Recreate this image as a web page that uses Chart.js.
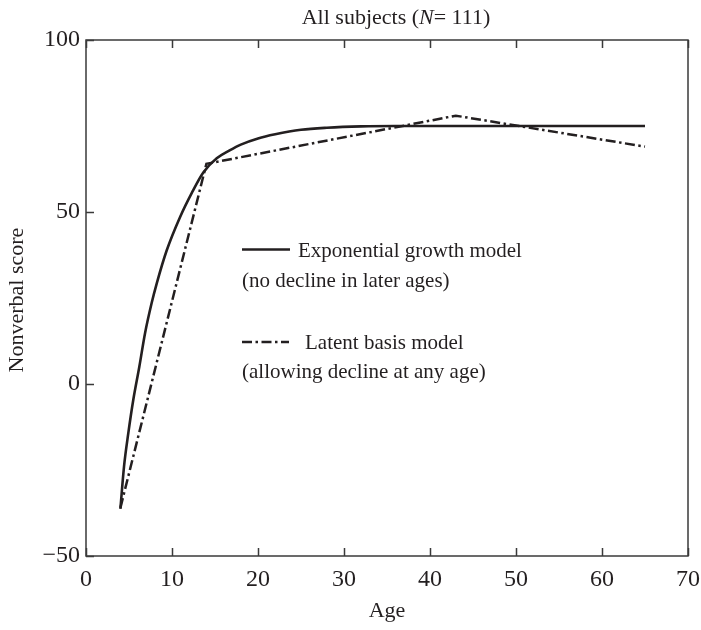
<!DOCTYPE html>
<html>
<head>
<meta charset="utf-8">
<script src="https://cdn.jsdelivr.net/npm/chart.js@4/dist/chart.umd.min.js"></script>
<style>
html,body{margin:0;padding:0;background:#fff;}
#wrap{width:701px;height:630px;position:relative;}
</style>
</head>
<body>
<div id="wrap"><canvas id="c" width="701" height="630"></canvas></div>
<script>
// ---- data ----
const expAges   = [4, 4.42, 4.92, 5.5, 6.2, 6.86, 7.64, 8.22, 9.38, 10.93, 12.29, 13.64, 15.2, 16.7, 18, 20, 22, 25, 28, 32, 36, 65];
const expScores = [-36.3, -24, -14.3, -4.6, 5, 14.7, 23.6, 29.2, 38.8, 48.5, 55.5, 61.5, 65.6, 67.9, 69.6, 71.4, 72.6, 73.9, 74.5, 74.9, 75, 75];
const lbAges    = [4, 14, 43, 65];
const lbScores  = [-36, 64, 78, 69];
const xTicks = [0, 10, 20, 30, 40, 50, 60, 70];
const yTicks = [-50, 0, 50, 100];
const titleText = ['All subjects (', 'N', '= 111)'];
const xLabel = 'Age';
const yLabel = 'Nonverbal score';
const legendLines = [
  ['Exponential growth model', '(no decline in later ages)'],
  ['Latent basis model', '(allowing decline at any age)']
];

const INK = '#231f20';
const SERIF = '"Liberation Serif", "DejaVu Serif", serif';
const DASHDOT = [10, 3.5, 2.5, 3.5];

const toPts = (xs, ys) => xs.map((x, i) => ({x: x, y: ys[i]}));

const decor = {
  id: 'decor',
  afterDraw(chart) {
    const ctx = chart.ctx, a = chart.chartArea;
    const xs = chart.scales.x, ys = chart.scales.y;
    ctx.save();
    // frame
    ctx.strokeStyle = '#3a3a3a';
    ctx.lineWidth = 1.5;
    ctx.strokeRect(a.left, a.top, a.right - a.left, a.bottom - a.top);
    // inward ticks
    ctx.beginPath();
    xTicks.forEach(v => {
      const px = Math.round(xs.getPixelForValue(v)) + 0.5;
      ctx.moveTo(px, a.bottom); ctx.lineTo(px, a.bottom - 8);
      ctx.moveTo(px, a.top); ctx.lineTo(px, a.top + 8);
    });
    yTicks.forEach(v => {
      const py = Math.round(ys.getPixelForValue(v)) + 0.5;
      ctx.moveTo(a.left, py); ctx.lineTo(a.left + 8, py);
    });
    ctx.stroke();

    ctx.fillStyle = INK;
    // title
    const f1 = '22px ' + SERIF, f2 = 'italic 22px ' + SERIF;
    ctx.font = f1; const w0 = ctx.measureText(titleText[0]).width;
    const w2 = ctx.measureText(titleText[2]).width;
    ctx.font = f2; const w1 = ctx.measureText(titleText[1]).width;
    let tx = 396 - (w0 + w1 + w2) / 2;
    ctx.textBaseline = 'alphabetic'; ctx.textAlign = 'left';
    ctx.font = f1; ctx.fillText(titleText[0], tx, 24); tx += w0;
    ctx.font = f2; ctx.fillText(titleText[1], tx, 24); tx += w1;
    ctx.font = f1; ctx.fillText(titleText[2], tx, 24);

    // axis titles
    ctx.font = '22px ' + SERIF;
    ctx.textAlign = 'center';
    ctx.fillText(xLabel, (a.left + a.right) / 2, 617);
    ctx.save();
    ctx.translate(23, 300);
    ctx.rotate(-Math.PI / 2);
    ctx.textBaseline = 'alphabetic';
    ctx.fillText(yLabel, 0, 0);
    ctx.restore();

    // legend
    ctx.strokeStyle = INK;
    ctx.lineWidth = 2.5;
    ctx.setLineDash([]);
    ctx.beginPath(); ctx.moveTo(242, 249.5); ctx.lineTo(290, 249.5); ctx.stroke();
    ctx.setLineDash(DASHDOT);
    ctx.beginPath(); ctx.moveTo(242, 342); ctx.lineTo(289, 342); ctx.stroke();
    ctx.setLineDash([]);
    ctx.font = '21px ' + SERIF;
    ctx.textAlign = 'left';
    ctx.fillText(legendLines[0][0], 298, 257);
    ctx.fillText(legendLines[0][1], 242, 287);
    ctx.fillText(legendLines[1][0], 305, 349);
    ctx.fillText(legendLines[1][1], 242, 378);
    ctx.restore();
  }
};

new Chart(document.getElementById('c'), {
  type: 'line',
  data: {
    datasets: [
      {
        label: legendLines[0][0],
        data: toPts(expAges, expScores),
        borderColor: INK, borderWidth: 2.6,
        pointRadius: 0, fill: false,
        cubicInterpolationMode: 'monotone'
      },
      {
        label: legendLines[1][0],
        data: toPts(lbAges, lbScores),
        borderColor: INK, borderWidth: 2.5,
        borderDash: DASHDOT,
        pointRadius: 0, fill: false, tension: 0
      }
    ]
  },
  options: {
    responsive: false,
    animation: false,
    devicePixelRatio: 1,
    layout: {padding: {top: 40, right: 13, left: 0, bottom: 0}},
    plugins: {legend: {display: false}, title: {display: false}, tooltip: {enabled: false}},
    scales: {
      x: {
        type: 'linear', min: 0, max: 70,
        afterFit(s) { s.height = 74; s.paddingLeft = 0; s.paddingRight = 0; },
        afterBuildTicks(s) { s.ticks = xTicks.map(v => ({value: v})); },
        grid: {display: false, drawTicks: false},
        border: {display: false},
        ticks: {color: INK, font: {family: SERIF, size: 24}, padding: 9, maxRotation: 0}
      },
      y: {
        type: 'linear', min: -50, max: 100,
        afterFit(s) { s.width = 86; s.paddingTop = 0; s.paddingBottom = 0; },
        afterBuildTicks(s) { s.ticks = yTicks.map(v => ({value: v})); },
        grid: {display: false, drawTicks: false},
        border: {display: false},
        ticks: {color: INK, font: {family: SERIF, size: 24}, padding: 6,
          callback: v => (v < 0 ? '\u2212' + Math.abs(v) : String(v))}
      }
    }
  },
  plugins: [decor]
});
</script>
</body>
</html>
